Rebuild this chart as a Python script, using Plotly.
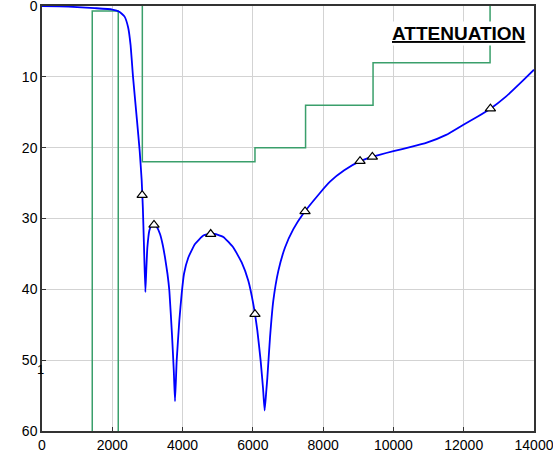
import plotly.graph_objects as go

# Blue response curve (frequency, attenuation dB)
freq = [0, 500, 1000, 1500, 2000, 2200, 2350, 2450, 2520, 2590, 2700, 2780, 2836, 2870, 2903,
        2941, 2970, 2998, 3055, 3110, 3187, 3270, 3358, 3430, 3500, 3570, 3624, 3700, 3750,
        3785, 3832, 3908, 3975, 4041, 4164, 4354, 4591, 4850, 5160, 5444, 5682, 5871, 6013,
        6127, 6222, 6290, 6335, 6380, 6412, 6488, 6582, 6725, 6915, 7152, 7436, 7891, 8195,
        8600, 9050, 9400, 10000, 10500, 10950, 11500, 11980, 12400, 12760, 13200, 13690, 14000]
atten = [0, 0.05, 0.15, 0.3, 0.5, 0.8, 1.5, 3, 5.5, 10, 16, 20.5, 24.6, 28.5, 34.1,
         40.4, 37, 34.1, 31.7, 31, 30.8, 31.2, 32.2, 33.6, 35.5, 37.8, 40.2, 46.5, 51.5,
         55.8, 50.1, 44.4, 40.6, 37.8, 35.5, 33.6, 32.4, 32.1, 32.6, 34.1, 36.2, 38.8, 42.1,
         45.8, 50.1, 54, 57.1, 54.5, 52.5, 46.8, 41.6, 37.4, 34.1, 31.5, 29.3, 26.5, 24.8,
         23.2, 21.9, 21.3, 20.5, 19.9, 19.3, 18.2, 16.8, 15.6, 14.5, 12.8, 10.5, 9]

# Triangle markers
mark_x = [2850, 3187, 4800, 6060, 7485, 9050, 9400, 12760]
mark_y = [26.7, 30.9, 32.2, 43.5, 29.0, 21.9, 21.3, 14.5]

# Green specification mask (two pieces)
pass_x = [1430, 1430, 2170, 2170]
pass_y = [60, 0.7, 0.7, 60]
stop_x = [2855, 2855, 6060, 6060, 7500, 7500, 9420, 9420, 12750, 12750]
stop_y = [0, 22, 22, 20, 20, 14, 14, 8, 8, 0]

x_ticks = [0, 2000, 4000, 6000, 8000, 10000, 12000, 14000]
x_labels = ["0", "2000", "4000", "6000", "8000", "10000", "12000", "14000"]
y_ticks = [0, 10, 20, 30, 40, 50, 60]

green = "#3a9f6b"
fig = go.Figure()
fig.add_trace(go.Scatter(x=pass_x, y=pass_y, mode="lines",
                         line=dict(color=green, width=1.5), showlegend=False))
fig.add_trace(go.Scatter(x=stop_x, y=stop_y, mode="lines",
                         line=dict(color=green, width=1.5), showlegend=False))
fig.add_trace(go.Scatter(x=freq, y=atten, mode="lines",
                         line=dict(color="#0000ff", width=1.8, shape="spline", smoothing=0.4),
                         showlegend=False))
fig.add_trace(go.Scatter(x=mark_x, y=mark_y, mode="markers",
                         marker=dict(symbol="triangle-up", size=9, color="white",
                                     line=dict(color="black", width=1.2)),
                         showlegend=False))

fig.add_annotation(x=0.986, y=0.936, xref="paper", yref="paper", xanchor="right", yanchor="middle",
                   text="<b><u>ATTENUATION</u></b>", showarrow=False, bgcolor="white",
                   font=dict(family="Liberation Sans, Arial", size=19, color="black"))
fig.add_annotation(x=-0.004, y=51.3, xref="paper", yref="y", xanchor="center", yanchor="middle",
                   text="1", showarrow=False,
                   font=dict(family="Liberation Sans, Arial", size=13, color="black"))

axis_common = dict(showgrid=True, gridcolor="#d3d3d3", gridwidth=1, showline=True,
                   linecolor="#333333", linewidth=1.5, mirror=True, ticks="inside",
                   ticklen=4, tickcolor="#333333", zeroline=False, automargin=False,
                   ticklabeloverflow="allow",
                   tickfont=dict(family="Liberation Sans, Arial", size=14, color="black"))
fig.update_xaxes(range=[0, 14000], tickvals=x_ticks, ticktext=x_labels, **axis_common)
fig.update_yaxes(range=[60, 0], tickvals=y_ticks, **axis_common)

fig.update_layout(width=553, height=459, margin=dict(l=42, r=19, t=6, b=28),
                  plot_bgcolor="white", paper_bgcolor="white")
fig.write_html("out.html", config={"displayModeBar": False},
               post_script="document.body.style.margin='0';")
